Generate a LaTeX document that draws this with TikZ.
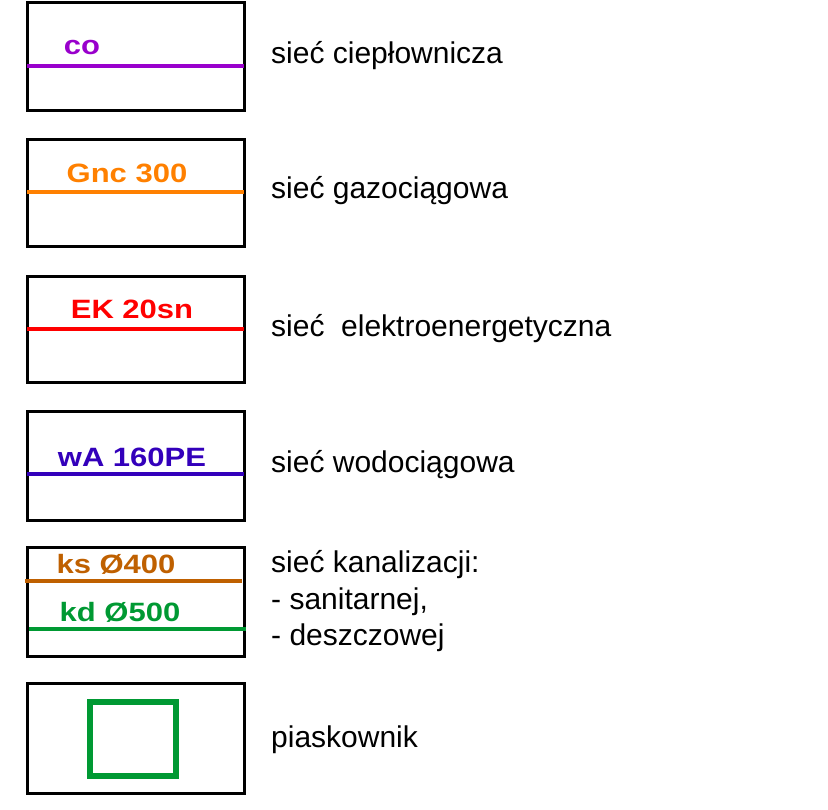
\documentclass[tikz,border=0pt]{standalone}
\usepackage{fontspec}
\setmainfont{Liberation Sans}
\usepackage{tikz}
\usetikzlibrary{positioning}
\definecolor{fioletco}{RGB}{153,0,204}
\definecolor{pomgaz}{RGB}{255,128,0}
\definecolor{czerwEK}{RGB}{255,0,0}
\definecolor{nieswA}{RGB}{51,0,187}
\definecolor{brazks}{RGB}{191,96,0}
\definecolor{zielkd}{RGB}{0,153,51}

\begin{document}
\begin{tikzpicture}[x=1pt,y=-1pt,
  ramka/.style={draw=black,line width=3pt},
  siec/.style={line width=3.6pt},
  opis/.style={anchor=base west,inner sep=0pt,font=\fontsize{30}{36}\selectfont},
  symbol/.style={anchor=base,inner sep=0pt,font=\fontsize{26.5}{30}\selectfont\bfseries,xscale=1.17}]
\useasboundingbox (0,0) rectangle (828,810);
% ramki legendy
\draw[ramka] (27,3) rectangle (244,111);
\draw[ramka] (27,140) rectangle (244,247);
\draw[ramka] (27,277) rectangle (244,383);
\draw[ramka] (27,412) rectangle (244,520);
\draw[ramka] (27,547) rectangle (244,656);
\draw[ramka] (27,683) rectangle (244,793);
% linie sieci
\draw[siec,fioletco] (27,66)--(244,66);
\draw[siec,pomgaz] (27,192)--(244,192);
\draw[siec,czerwEK] (27,329)--(244,329);
\draw[siec,nieswA] (27,474)--(244,474);
\draw[siec,brazks] (25,581)--(242,581);
\draw[siec,zielkd] (29,629)--(246,629);
\draw[line width=6pt,zielkd] (90,702) rectangle (176,776);
% oznaczenia
\node[symbol,fioletco] (co) at (82,55) {co};
\node[symbol,pomgaz] (gnc) at (127,183) {Gnc 300};
\node[symbol,czerwEK] (ek) at (132,319) {EK 20sn};
\node[symbol,nieswA] (wa) at (132,466) {wA 160PE};
\node[symbol,brazks] (ks) at (116,573) {ks Ø400};
\node[symbol,zielkd] (kd) at (120,621) {kd Ø500};
% opisy
\node[opis] (cieplo) at (271,64) {sieć ciepłownicza};
\node[opis] (gaz) at (271,199) {sieć gazociągowa};
\node[opis] (elektro) at (271,337) {sieć\ \ elektroenergetyczna};
\node[opis] (woda) at (271,472) {sieć wodociągowa};
\node[opis] (kanal) at (271,572) {sieć kanalizacji:};
\node[opis] (sanit) at (271,609) {- sanitarnej,};
\node[opis] (deszcz) at (271,645) {- deszczowej};
\node[opis] (piask) at (271,747) {piaskownik};
\end{tikzpicture}
\end{document}
